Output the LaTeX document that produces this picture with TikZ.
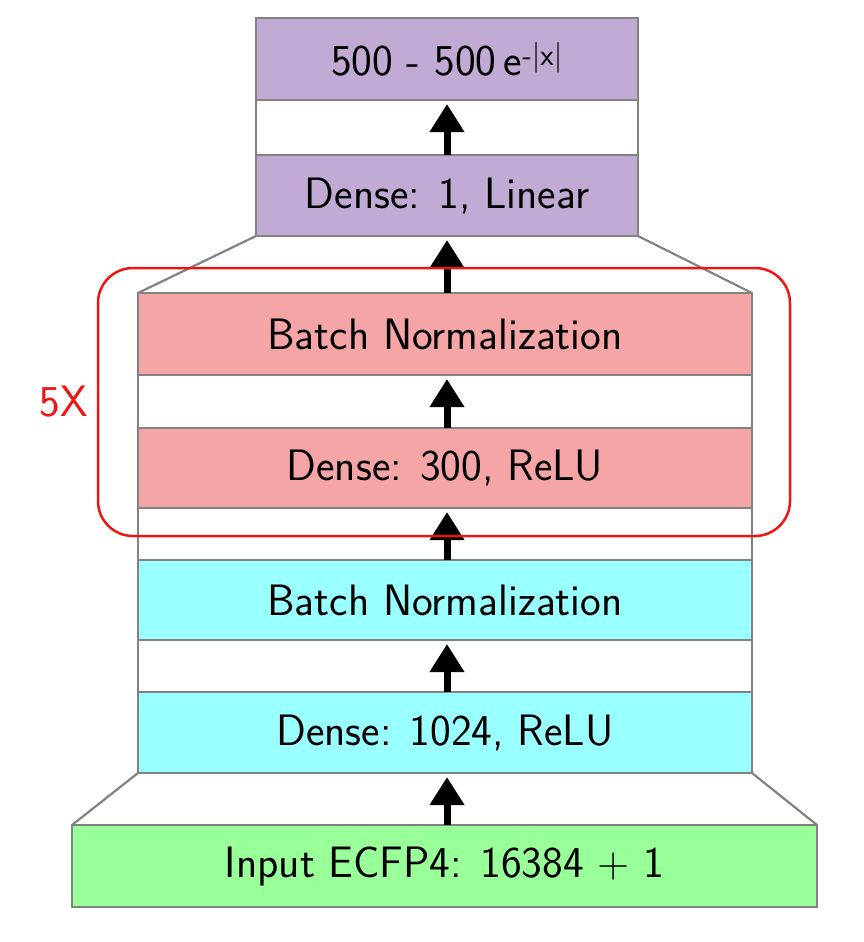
\documentclass[tikz,border=0pt]{standalone}
\usepackage{fontspec}
\usetikzlibrary{arrows.meta}
\definecolor{purp}{RGB}{193,170,212}
\definecolor{pinkred}{RGB}{246,165,167}
\definecolor{cyanbox}{RGB}{153,255,255}
\definecolor{greenbox}{RGB}{153,255,153}
\definecolor{edgegray}{RGB}{130,130,130}
\definecolor{loopred}{RGB}{240,20,20}
\begin{document}
\begin{tikzpicture}[x=1pt,y=-1pt,
  layer/.style={draw=edgegray,line width=2.2pt,inner sep=0pt,outer sep=0pt,
    font=\sffamily\fontsize{44}{50}\selectfont},
  side/.style={draw=edgegray,line width=2.2pt},
  flow/.style={line width=7pt,-{Triangle[width=33pt,length=28pt]},shorten >=4pt}]
\useasboundingbox (0,0) rectangle (864,942);
% boxes
\node[layer,fill=purp,minimum width=382pt,minimum height=82pt] (out) at (447,59) {500 - 500\,e\textsuperscript{-|x|}};
\node[layer,fill=purp,minimum width=382pt,minimum height=81pt] (lin) at (447,195.5) {Dense: 1, Linear};
\node[layer,fill=pinkred,minimum width=614pt,minimum height=82pt] (bn2) at (445,334) {Batch Normalization};
\node[layer,fill=pinkred,minimum width=614pt,minimum height=80pt] (d300) at (445,468) {Dense: 300, ReLU};
\node[layer,fill=cyanbox,minimum width=614pt,minimum height=80pt] (bn1) at (445,600) {Batch Normalization};
\node[layer,fill=cyanbox,minimum width=614pt,minimum height=81pt] (d1024) at (445,732.5) {Dense: 1024, ReLU};
\node[layer,fill=greenbox,minimum width=745pt,minimum height=82pt] (inp) at (444.5,866) {Input ECFP4: 16384 + 1};
% side lines
\draw[side] (out.south west) -- (lin.north west);
\draw[side] (out.south east) -- (lin.north east);
\draw[side] (lin.south west) -- (bn2.north west);
\draw[side] (lin.south east) -- (bn2.north east);
\draw[side] (bn2.south west) -- (d300.north west);
\draw[side] (bn2.south east) -- (d300.north east);
\draw[side] (d300.south west) -- (bn1.north west);
\draw[side] (d300.south east) -- (bn1.north east);
\draw[side] (bn1.south west) -- (d1024.north west);
\draw[side] (bn1.south east) -- (d1024.north east);
\draw[side] (d1024.south west) -- (inp.north west);
\draw[side] (d1024.south east) -- (inp.north east);
% arrows
\draw[flow] (lin.north -| 447,0) -- (out.south -| 447,0);
\draw[flow] (bn2.north -| 447,0) -- (lin.south -| 447,0);
\draw[flow] (d300.north -| 447,0) -- (bn2.south -| 447,0);
\draw[flow] (bn1.north -| 447,0) -- (d300.south -| 447,0);
\draw[flow] (d1024.north -| 447,0) -- (bn1.south -| 447,0);
\draw[flow] (inp.north -| 447,0) -- (d1024.south -| 447,0);
% repeat block
\node[draw=loopred,line width=2.5pt,rounded corners=35pt,inner sep=0pt,
  minimum width=692pt,minimum height=268pt] (rep) at (444,402) {};
\node[text=loopred,font=\sffamily\fontsize{44}{50}\selectfont,anchor=east,inner sep=0pt] (times) at ([xshift=-9pt]rep.west) {5X};
\end{tikzpicture}
\end{document}
